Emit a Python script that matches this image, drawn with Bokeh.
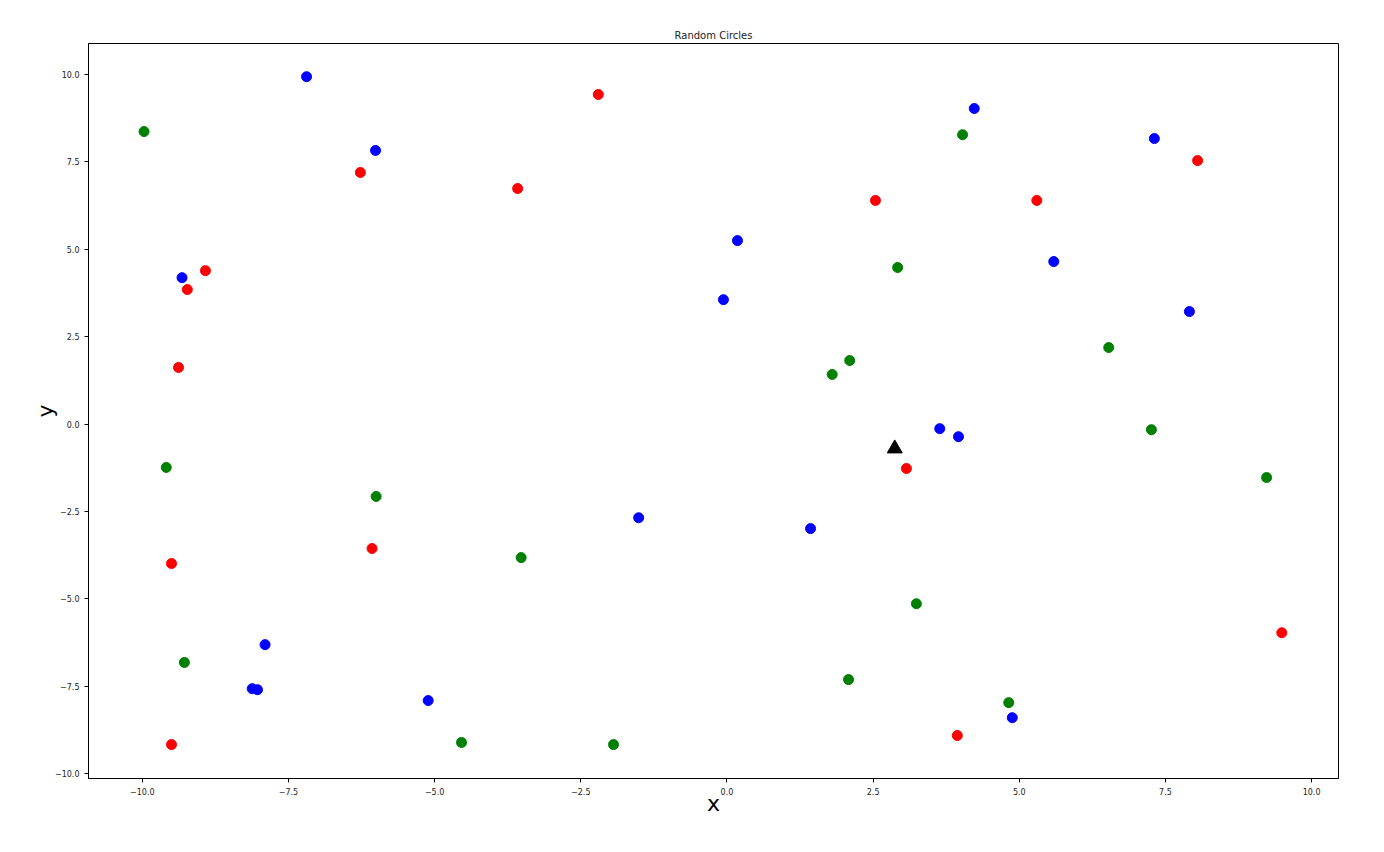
from bokeh.plotting import figure
from bokeh.models import Range1d, FixedTicker, CustomJSTickFormatter
from bokeh.embed import file_html
from bokeh.resources import INLINE

red_x = [-2.20, -6.27, -3.58, -8.92, -9.23, -9.38, 2.54, 5.30, 8.05, 3.07, -6.07, -9.50, 9.49, 3.94, -9.50]
red_y = [9.43, 7.20, 6.74, 4.39, 3.85, 1.62, 6.40, 6.40, 7.54, -1.27, -3.56, -3.99, -5.97, -8.91, -9.17]

blue_x = [-7.19, -6.01, -9.32, 0.18, -0.06, 4.23, 7.31, 5.59, 7.91, 3.64, 3.96, -1.51, 1.43, -7.90, -8.12, -8.03, -5.11, 4.88]
blue_y = [9.94, 7.83, 4.19, 5.25, 3.56, 9.03, 8.17, 4.65, 3.22, -0.13, -0.36, -2.68, -2.99, -6.31, -7.57, -7.60, -7.91, -8.40]

green_x = [-9.97, 4.03, 2.92, 2.10, 1.80, 6.53, 7.26, 9.23, -9.59, -6.00, -3.52, 3.24, -9.28, 2.08, 4.82, -4.54, -1.94]
green_y = [8.37, 8.28, 4.48, 1.82, 1.42, 2.19, -0.16, -1.53, -1.24, -2.07, -3.82, -5.14, -6.82, -7.31, -7.97, -9.11, -9.17]

tri_x = [2.87]
tri_y = [-0.70]

ticks = [-10.0, -7.5, -5.0, -2.5, 0.0, 2.5, 5.0, 7.5, 10.0]

FONT = "DejaVu Sans"

p = figure(output_backend="svg", toolbar_location=None,
           frame_width=1250, frame_height=735,
           min_border_left=88, min_border_right=38, min_border_top=43, min_border_bottom=58,
           x_range=Range1d(-10.92, 10.46), y_range=Range1d(-10.14, 10.89),
           title="Random Circles")
p.title.align = "center"
p.title.text_font = FONT
p.title.text_font_size = "10px"
p.title.text_font_style = "normal"
p.title.text_color = "#222222"
p.title.standoff = 6

p.xgrid.visible = False
p.ygrid.visible = False
p.outline_line_color = "black"
p.outline_line_width = 1

fmt = CustomJSTickFormatter(code="return tick.toFixed(1).replace('-', '\u2212');")
for ax in (p.xaxis, p.yaxis):
    ax.ticker = FixedTicker(ticks=ticks)
    ax.formatter = fmt
    ax.major_label_text_font = FONT
    ax.major_label_text_font_size = "8px"
    ax.major_label_text_color = "#222222"
    ax.minor_tick_line_color = None
    ax.major_tick_out = 4
    ax.major_tick_in = 0
    ax.axis_line_color = "black"
    ax.major_tick_line_color = "black"
    ax.axis_label_text_font = FONT
    ax.axis_label_text_font_size = "22px"
    ax.axis_label_text_font_style = "normal"
    ax.axis_label_text_color = "black"

p.xaxis.axis_label = "x"
p.yaxis.axis_label = "y"
p.xaxis.axis_label_standoff = -7
p.yaxis.axis_label_standoff = -6

p.scatter(red_x, red_y, size=10, color="red", marker="circle")
p.scatter(blue_x, blue_y, size=10, color="blue", marker="circle")
p.scatter(green_x, green_y, size=10, color="green", marker="circle")
p.scatter(tri_x, tri_y, size=15, color="black", marker="triangle")

open("out.html", "w").write(file_html(p, INLINE))
